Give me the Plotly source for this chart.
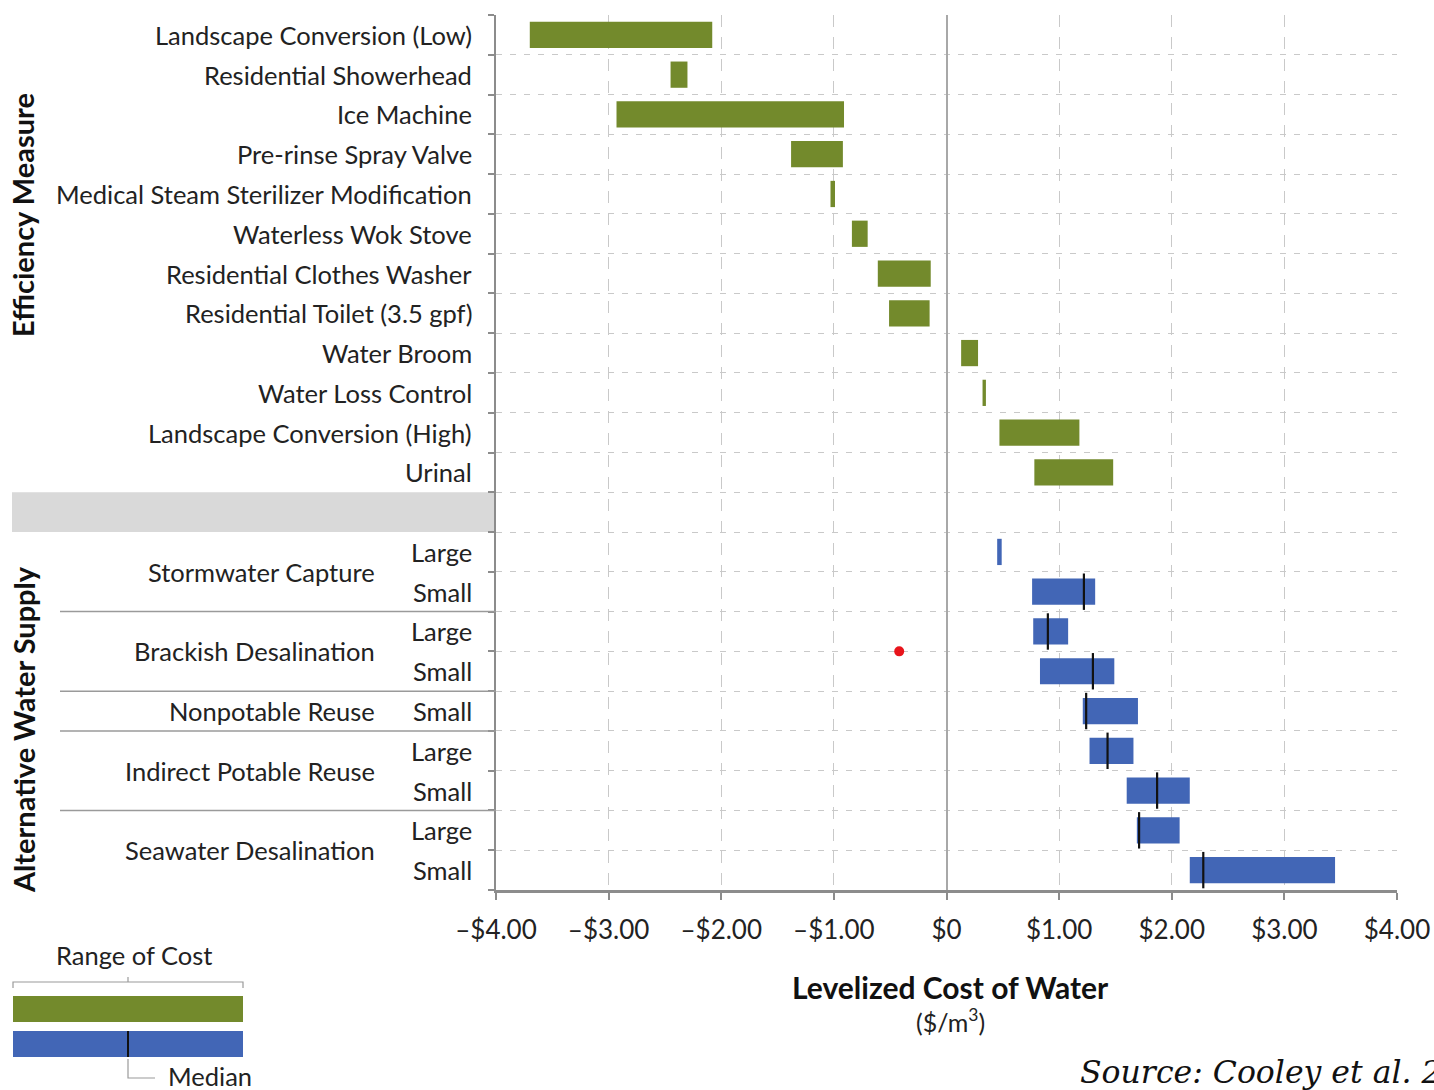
import plotly.graph_objects as go

# ---------------- data ----------------
eff_labels = ["Landscape Conversion (Low)", "Residential Showerhead", "Ice Machine",
              "Pre-rinse Spray Valve", "Medical Steam Sterilizer Modification",
              "Waterless Wok Stove", "Residential Clothes Washer", "Residential Toilet (3.5 gpf)",
              "Water Broom", "Water Loss Control", "Landscape Conversion (High)", "Urinal"]
eff_low = [-3.70, -2.45, -2.93, -1.38, -1.03, -0.84, -0.61, -0.51, 0.13, 0.32, 0.47, 0.78]
eff_high = [-2.08, -2.30, -0.91, -0.92, -0.99, -0.70, -0.14, -0.15, 0.28, 0.35, 1.18, 1.48]

sup_groups = ["Stormwater Capture", "Brackish Desalination", "Nonpotable Reuse",
              "Indirect Potable Reuse", "Seawater Desalination"]
sup_group_sizes = [["Large", "Small"], ["Large", "Small"], ["Small"], ["Large", "Small"], ["Large", "Small"]]
sup_low = [0.45, 0.76, 0.77, 0.83, 1.21, 1.27, 1.60, 1.69, 2.16]
sup_high = [0.49, 1.32, 1.08, 1.49, 1.70, 1.66, 2.16, 2.07, 3.45]
sup_median = [None, 1.22, 0.90, 1.30, 1.24, 1.43, 1.87, 1.71, 2.28]

x_ticks = [-4, -3, -2, -1, 0, 1, 2, 3, 4]
x_ticktext = ["\u2013$4.00", "\u2013$3.00", "\u2013$2.00", "\u2013$1.00", "$0",
              "$1.00", "$2.00", "$3.00", "$4.00"]

red_dot_x = [-0.42]
red_dot_y = [15.5]

GREEN = "#738a2c"
BLUE = "#4266b6"
TEXT = "#222222"
GRID = "#c9c9c9"
AXIS = "#8c8c8c"
FONT = "Lato"
LBL = 25.5

# ---------------- layout geometry ----------------
W, H = 1434, 1090
L, R, T, B = 496, 1397, 15, 890


def px(xp):
    return (xp - L) / (R - L)


def py(yp):
    return (B - yp) / (B - T)


n_eff = len(eff_labels)
gap_row = n_eff
eff_rows = list(range(n_eff))
sup_rows = list(range(gap_row + 1, gap_row + 1 + len(sup_low)))
n_rows = sup_rows[-1] + 1

fig = go.Figure()

fig.add_trace(go.Bar(
    y=eff_rows, x=[h - l for l, h in zip(eff_low, eff_high)], base=eff_low,
    orientation="h", width=0.66, marker=dict(color=GREEN, line=dict(width=0)),
    hoverinfo="skip", showlegend=False))

fig.add_trace(go.Bar(
    y=sup_rows, x=[h - l for l, h in zip(sup_low, sup_high)], base=sup_low,
    orientation="h", width=0.66, marker=dict(color=BLUE, line=dict(width=0)),
    hoverinfo="skip", showlegend=False))

med_x = [m for m in sup_median if m is not None]
med_y = [r for r, m in zip(sup_rows, sup_median) if m is not None]
fig.add_trace(go.Scatter(
    x=med_x, y=med_y, mode="markers",
    marker=dict(symbol="line-ns-open", size=26, color="#111111",
                line=dict(color="#111111", width=2.2)),
    hoverinfo="skip", showlegend=False))

fig.add_trace(go.Scatter(
    x=red_dot_x, y=red_dot_y, mode="markers",
    marker=dict(color="#e8141b", size=10), hoverinfo="skip", showlegend=False))

annotations = []
shapes = []

# efficiency labels
for r, lab in zip(eff_rows, eff_labels):
    annotations.append(dict(x=px(474), xref="paper", y=r, yref="y", text=lab,
                            xanchor="right", yanchor="middle", showarrow=False,
                            font=dict(family=FONT, size=LBL, color=TEXT)))

# supply labels
i = 0
sep_rows = []
for g, sizes in zip(sup_groups, sup_group_sizes):
    rows = sup_rows[i:i + len(sizes)]
    center = sum(rows) / len(rows)
    annotations.append(dict(x=px(377), xref="paper", y=center, yref="y", text=g,
                            xanchor="right", yanchor="middle", showarrow=False,
                            font=dict(family=FONT, size=LBL, color=TEXT)))
    for rr, s in zip(rows, sizes):
        annotations.append(dict(x=px(474), xref="paper", y=rr, yref="y", text=s,
                                xanchor="right", yanchor="middle", showarrow=False,
                                font=dict(family=FONT, size=LBL, color=TEXT)))
    i += len(sizes)
    if i < len(sup_rows):
        sep_rows.append(rows[-1] + 0.5)

for sr in sep_rows:
    shapes.append(dict(type="line", xref="paper", yref="y", x0=px(60), x1=px(496),
                       y0=sr, y1=sr, line=dict(color="#9a9a9a", width=1.5)))

# grey band for gap row
shapes.append(dict(type="rect", xref="paper", yref="y", x0=px(12), x1=px(495),
                   y0=gap_row - 0.5, y1=gap_row + 0.5, fillcolor="#d9d9d9",
                   line=dict(width=0), layer="below"))

# section titles
annotations.append(dict(x=px(23), xref="paper", y=py(215), yref="paper",
                        text="<b>Efficiency Measure</b>", textangle=-90,
                        xanchor="center", yanchor="middle", showarrow=False,
                        font=dict(family=FONT, size=29, color="#111111", weight=900)))
annotations.append(dict(x=px(23), xref="paper", y=py(730), yref="paper",
                        text="<b>Alternative Water Supply</b>", textangle=-90,
                        xanchor="center", yanchor="middle", showarrow=False,
                        font=dict(family=FONT, size=29, color="#111111", weight=900)))

# x axis title
annotations.append(dict(x=px(950), xref="paper", y=py(987), yref="paper",
                        text="<b>Levelized Cost of Water</b>",
                        xanchor="center", yanchor="middle", showarrow=False,
                        font=dict(family=FONT, size=30, color="#111111", weight=900)))
annotations.append(dict(x=px(950), xref="paper", y=py(1020), yref="paper",
                        text="($/m<sup>3</sup>)",
                        xanchor="center", yanchor="middle", showarrow=False,
                        font=dict(family=FONT, size=25, color=TEXT)))

# legend key
annotations.append(dict(x=px(134), xref="paper", y=py(955), yref="paper",
                        text="Range of Cost", xanchor="center", yanchor="middle",
                        showarrow=False, font=dict(family=FONT, size=LBL, color=TEXT)))
annotations.append(dict(x=px(166), xref="paper", y=py(1076), yref="paper",
                        text="Median", xanchor="left", yanchor="middle",
                        showarrow=False, font=dict(family=FONT, size=LBL, color=TEXT)))
shapes.append(dict(type="path", xref="paper", yref="paper",
                   path=f"M {px(13)},{py(988)} L {px(13)},{py(982)} L {px(243)},{py(982)} L {px(243)},{py(988)}",
                   line=dict(color="#9a9a9a", width=1.2)))
shapes.append(dict(type="line", xref="paper", yref="paper", x0=px(128), x1=px(128),
                   y0=py(982), y1=py(977), line=dict(color="#9a9a9a", width=1.2)))
shapes.append(dict(type="rect", xref="paper", yref="paper", x0=px(13), x1=px(243),
                   y0=py(996), y1=py(1022), fillcolor=GREEN, line=dict(width=0)))
shapes.append(dict(type="rect", xref="paper", yref="paper", x0=px(13), x1=px(243),
                   y0=py(1031), y1=py(1057), fillcolor=BLUE, line=dict(width=0)))
shapes.append(dict(type="line", xref="paper", yref="paper", x0=px(128), x1=px(128),
                   y0=py(1031), y1=py(1057), line=dict(color="#111111", width=2)))
shapes.append(dict(type="path", xref="paper", yref="paper",
                   path=f"M {px(128)},{py(1059)} L {px(128)},{py(1078)} L {px(155)},{py(1078)}",
                   line=dict(color="#9a9a9a", width=1.2)))

# source
annotations.append(dict(x=px(1078), xref="paper", y=py(1072), yref="paper",
                        text="<i>Source: Cooley et al. 2019</i>", xanchor="left",
                        yanchor="middle", showarrow=False,
                        font=dict(family="DejaVu Serif", size=31.5, color="#111111")))

fig.update_layout(
    width=W, height=H,
    margin=dict(l=L, r=W - R, t=T, b=H - B, pad=0, autoexpand=False),
    paper_bgcolor="white", plot_bgcolor="white",
    barmode="overlay", showlegend=False,
    annotations=annotations, shapes=shapes,
    xaxis=dict(range=[-4, 4], tickvals=x_ticks, ticktext=x_ticktext, automargin=False,
               showgrid=True, gridcolor=GRID, griddash="12px,10px", gridwidth=1,
               zeroline=True, zerolinecolor="#a8a8a8", zerolinewidth=1.5,
               showline=True, linecolor=AXIS, linewidth=2.5,
               ticks="outside", ticklen=7, tickcolor=AXIS, tickwidth=1.5,
               ticklabelstandoff=8,
               tickfont=dict(family=FONT, size=26, color=TEXT), fixedrange=True),
    yaxis=dict(range=[n_rows - 0.5, -0.5], automargin=False,
               tickvals=[k - 0.5 for k in range(n_rows + 1)],
               showticklabels=False,
               showgrid=True, gridcolor=GRID, griddash="6px,8px", gridwidth=1,
               zeroline=False, showline=True, linecolor=AXIS, linewidth=2,
               ticks="outside", ticklen=6, tickcolor=AXIS, tickwidth=1.5,
               fixedrange=True),
)

fig.write_html(
    "out.html",
    config={"displayModeBar": False},
    post_script="document.body.style.margin='0';document.body.style.overflow='hidden';",
)
